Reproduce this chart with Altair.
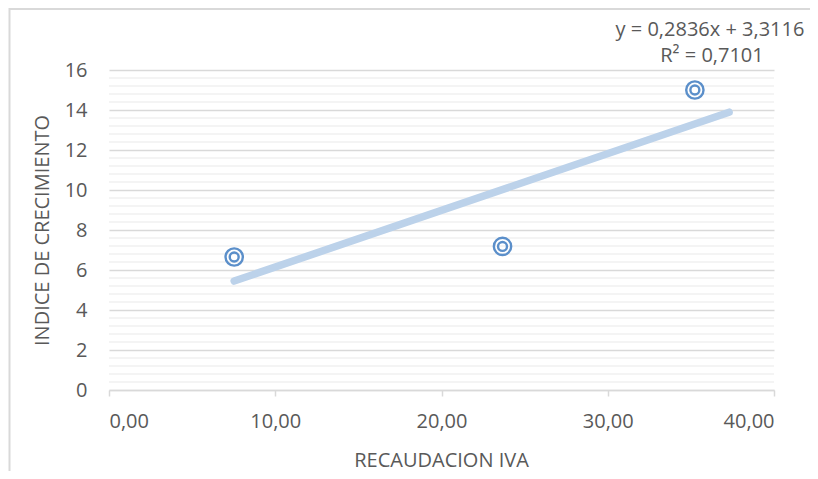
import altair as alt
import pandas as pd

# Data
recaudacion_iva = [7.53, 23.67, 35.24]
indice_crecimiento = [6.65, 7.18, 15.0]

slope = 0.2836
intercept = 3.3116
trend_x = [7.53, 37.3]
equation_text = "y = 0,2836x + 3,3116"
r2_text = "R² = 0,7101"

x_ticks = [0, 10, 20, 30, 40]
y_ticks = [0, 2, 4, 6, 8, 10, 12, 14, 16]
minor_y = [round(i * 0.4, 2) for i in range(41) if i % 5 != 0]

TEXT = "#595959"
GRID = "#d9d9d9"
MINOR = "#f0f0f0"
FONT = "Open Sans"

W, H = 665, 320

pts = pd.DataFrame({"x": recaudacion_iva, "y": indice_crecimiento})
trend = pd.DataFrame({"x": trend_x, "y": [slope * v + intercept for v in trend_x]})
minor = pd.DataFrame({"y": minor_y})

xscale = alt.Scale(domain=[0, 40], nice=False, zero=True)
yscale = alt.Scale(domain=[0, 16], nice=False, zero=True)

xaxis = alt.Axis(
    values=x_ticks,
    title="RECAUDACION IVA",
    labelExpr="replace(format(datum.value, '.2f'), '.', ',')",
    labelOverlap=False,
    grid=False,
    domainColor=GRID,
    domainWidth=1.5,
    tickColor=GRID,
    tickWidth=1.5,
    tickSize=6,
    labelPadding=25,
    labelBaseline="middle",
    labelFontSize=20,
    labelColor=TEXT,
    labelFont=FONT,
    titleFont=FONT,
    titleFontSize=20,
    titleFontWeight="normal",
    titleColor=TEXT,
    titleX=332,
    titleY=70,
    titleBaseline="middle",
    titleAlign="center",
    zindex=1,
)

yaxis = alt.Axis(
    values=y_ticks,
    tickCount=9,
    title="INDICE DE CRECIMIENTO",
    labelOverlap=False,
    grid=True,
    gridColor=GRID,
    gridWidth=1.5,
    domain=False,
    ticks=False,
    labelPadding=22,
    labelFontSize=20,
    labelColor=TEXT,
    labelFont=FONT,
    titleFont=FONT,
    titleFontSize=20,
    titleFontWeight="normal",
    titleColor=TEXT,
    titleAngle=270,
    titleX=-67,
    titleY=160,
    titleAlign="center",
    titleBaseline="middle",
    zindex=0,
)

X = lambda: alt.X("x:Q", scale=xscale, axis=xaxis)
Y = lambda: alt.Y("y:Q", scale=yscale, axis=yaxis)

frame = alt.Chart(pd.DataFrame({"a": [0]})).mark_rect(
    fillOpacity=0, stroke=GRID, strokeWidth=2
).encode(
    x=alt.value(-99.5), x2=alt.value(900), y=alt.value(-61), y2=alt.value(500)
)

minor_rules = alt.Chart(minor).mark_rule(color=MINOR, strokeWidth=1.5).encode(y=Y())

trend_line = alt.Chart(trend).mark_line(
    color="#bcd2ea", strokeWidth=7.5, strokeCap="round"
).encode(x=X(), y=Y())

outer = alt.Chart(pts).mark_point(
    shape="circle", filled=False, color="#5b8fca", strokeWidth=2.4, size=300, opacity=1
).encode(x=X(), y=Y())

inner = alt.Chart(pts).mark_point(
    shape="circle", filled=False, color="#5b8fca", strokeWidth=2.4, size=80, opacity=1
).encode(x=X(), y=Y())

eq = alt.Chart(pd.DataFrame({"t": [equation_text]})).mark_text(
    font=FONT, fontSize=20, color=TEXT, align="center", baseline="middle"
).encode(text="t:N", x=alt.value(601), y=alt.value(-40))

r2 = alt.Chart(pd.DataFrame({"t": [r2_text]})).mark_text(
    font=FONT, fontSize=20, color=TEXT, align="center", baseline="middle"
).encode(text="t:N", x=alt.value(603), y=alt.value(-14))

chart = alt.layer(minor_rules, frame, trend_line, outer, inner, eq, r2).properties(
    width=W,
    height=H,
    autosize=alt.AutoSizeParams(type="none"),
    padding={"left": 101, "top": 62, "right": 36, "bottom": 81},
    background="white",
).configure_view(stroke=None)

chart.save("out.html", embed_options={"renderer": "svg", "actions": False})
